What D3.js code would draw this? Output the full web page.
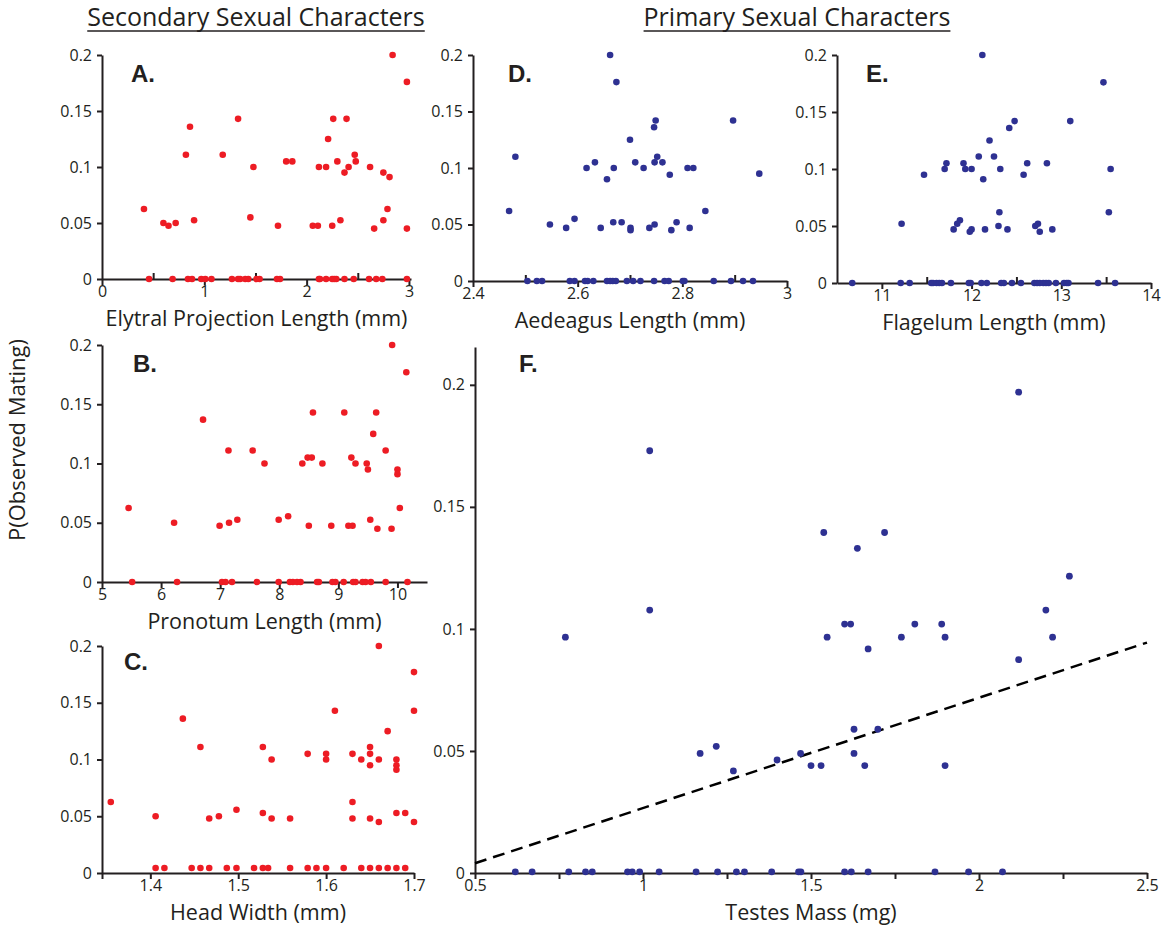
<!DOCTYPE html>
<html>
<head>
<meta charset="utf-8">
<script src="https://cdn.jsdelivr.net/npm/d3@7"></script>
<style>
body{margin:0;background:#fff}
text{font-family:"Open Sans",sans-serif;fill:#231f20}
</style>
</head>
<body>
<svg id="chart" width="1171" height="928"></svg>
<script>
// ---- data ----
// A. elytral projection length (mm) vs P(observed mating)
var elytralPts = [[0.41,0.0625],[0.60,0.05],[0.65,0.0475],[0.72,0.05],[0.82,0.111],[0.86,0.136],[0.90,0.0525],
  [1.18,0.111],[1.33,0.143],[1.45,0.055],[1.48,0.1],[1.72,0.0475],[1.80,0.105],[1.86,0.105],[2.06,0.0475],
  [2.11,0.0475],[2.12,0.1],[2.19,0.1],[2.21,0.125],[2.25,0.0475],[2.26,0.143],[2.30,0.105],[2.33,0.0525],
  [2.37,0.095],[2.39,0.143],[2.41,0.1],[2.47,0.111],[2.48,0.105],[2.62,0.1],[2.66,0.045],[2.75,0.095],
  [2.75,0.0525],[2.79,0.0625],[2.81,0.091],[2.84,0.2],[2.98,0.176],[2.98,0.045]];
var elytralZeros = [0.46,0.69,0.84,0.88,0.97,1.01,1.07,1.27,1.33,1.35,1.40,1.43,1.51,1.54,1.71,1.74,
  2.12,2.13,2.19,2.25,2.27,2.29,2.37,2.46,2.61,2.68,2.74,2.98];

// B. pronotum length (mm)
var pronotumPts = [[5.45,0.0625],[6.22,0.05],[6.71,0.137],[6.99,0.0475],[7.14,0.111],[7.15,0.05],[7.29,0.0525],
  [7.55,0.111],[7.75,0.1],[7.99,0.0525],[8.15,0.0555],[8.39,0.1],[8.48,0.105],[8.50,0.0475],[8.55,0.105],
  [8.57,0.143],[8.73,0.1],[8.88,0.0475],[9.10,0.143],[9.17,0.0475],[9.22,0.105],[9.24,0.0475],[9.29,0.1],
  [9.48,0.1],[9.50,0.095],[9.54,0.0525],[9.59,0.125],[9.64,0.143],[9.66,0.045],[9.80,0.111],[9.90,0.045],
  [9.91,0.2],[10.0,0.095],[10.0,0.091],[10.04,0.0625],[10.15,0.177]];
var pronotumZeros = [5.51,6.27,7.03,7.09,7.20,7.62,7.99,8.18,8.23,8.30,8.36,8.64,8.67,8.90,8.95,9.09,
  9.25,9.29,9.41,9.46,9.55,9.80,10.17];

// C. head width (mm)
var headPts = [[1.355,0.0625],[1.406,0.05],[1.437,0.136],[1.457,0.111],[1.467,0.048],[1.478,0.05],[1.498,0.0557],
  [1.528,0.0528],[1.528,0.111],[1.538,0.1],[1.538,0.048],[1.559,0.048],[1.579,0.105],[1.600,0.105],[1.600,0.1],
  [1.610,0.143],[1.630,0.105],[1.630,0.0625],[1.630,0.048],[1.640,0.1],[1.650,0.111],[1.650,0.105],[1.650,0.095],
  [1.650,0.048],[1.660,0.2],[1.660,0.1],[1.660,0.045],[1.670,0.125],[1.680,0.1],[1.680,0.095],[1.680,0.091],
  [1.680,0.0528],[1.690,0.0528],[1.700,0.177],[1.700,0.143],[1.700,0.045]];
var headZeros = [1.406,1.416,1.447,1.457,1.467,1.487,1.498,1.518,1.528,1.534,1.559,1.579,1.589,1.600,
  1.620,1.640,1.650,1.660,1.670,1.680,1.690];
var headZeroLevel = 0.0044;

// D. aedeagus length (mm)
var aedeagusPts = [[2.469,0.062],[2.481,0.110],[2.547,0.050],[2.578,0.047],[2.594,0.055],[2.617,0.100],
  [2.633,0.105],[2.644,0.047],[2.656,0.090],[2.662,0.2],[2.668,0.052],[2.669,0.100],[2.674,0.176],[2.684,0.052],
  [2.700,0.125],[2.701,0.047],[2.701,0.045],[2.710,0.105],[2.726,0.100],[2.737,0.047],[2.746,0.136],[2.749,0.142],
  [2.747,0.105],[2.747,0.050],[2.752,0.110],[2.762,0.105],[2.776,0.094],[2.779,0.045],[2.789,0.052],[2.810,0.100],
  [2.814,0.047],[2.821,0.100],[2.844,0.062],[2.897,0.142],[2.947,0.095]];
var aedeagusZeros = [2.504,2.522,2.532,2.585,2.594,2.614,2.619,2.630,2.656,2.662,2.667,2.673,2.694,2.706,
  2.720,2.746,2.766,2.774,2.801,2.804,2.860,2.893,2.916,2.935];

// E. flagelum length (mm)
var flagelumPts = [[11.22,0.052],[11.47,0.095],[11.70,0.1],[11.72,0.105],[11.80,0.047],[11.84,0.052],[11.87,0.055],
  [11.91,0.105],[11.93,0.1],[11.98,0.045],[12.00,0.1],[12.00,0.047],[12.08,0.111],[12.12,0.2],[12.13,0.091],
  [12.15,0.047],[12.20,0.125],[12.25,0.111],[12.30,0.050],[12.31,0.062],[12.32,0.1],[12.40,0.047],[12.42,0.136],
  [12.48,0.142],[12.58,0.095],[12.62,0.105],[12.71,0.050],[12.74,0.052],[12.76,0.045],[12.84,0.105],[12.90,0.047],
  [13.10,0.142],[13.47,0.176],[13.53,0.062],[13.55,0.1]];
var flagelumZeros = [10.67,11.21,11.31,11.55,11.57,11.61,11.64,11.67,11.77,11.97,11.99,12.11,12.17,12.33,
  12.36,12.45,12.55,12.70,12.73,12.76,12.80,12.83,12.86,12.94,13.03,13.06,13.08,13.41,13.60];

// F. testes mass (mg)
var testesPts = [[1.02,0.173],[2.118,0.197],[1.538,0.1395],[1.719,0.1395],[1.638,0.133],[2.269,0.1216],
  [1.02,0.1077],[2.199,0.1077],[1.60,0.102],[1.618,0.102],[1.809,0.102],[1.889,0.102],[0.769,0.0966],
  [1.548,0.0966],[1.769,0.0966],[1.899,0.0966],[2.219,0.0966],[1.670,0.0918],[2.118,0.0874],[1.628,0.0589],
  [1.699,0.0589],[1.218,0.0519],[1.170,0.049],[1.469,0.049],[1.628,0.049],[1.399,0.0463],[1.50,0.044],
  [1.530,0.044],[1.660,0.044],[1.899,0.044],[1.269,0.0418]];
var testesZeros = [0.620,0.670,0.779,0.829,0.849,0.954,0.968,0.990,1.048,1.158,1.222,1.278,1.302,1.383,
  1.463,1.470,1.600,1.620,1.670,1.869,1.969,2.070];
var testesFit = [[0.5,0.004],[2.5,0.0944]];

var pTicks = [0,0.05,0.1,0.15,0.2];

var RED = "#ed1c24", BLUE = "#2e3192", INK = "#231f20";

var svg = d3.select("#chart");
var fmt = d3.format("");

function panel(p) {
  var x = d3.scaleLinear().domain(p.xDomain).range(p.xRange);
  var y = d3.scaleLinear().domain(p.yDomain).range(p.yRange);
  var g = svg.append("g");
  var fs = p.tickFont || 16;

  g.append("g").attr("transform", "translate(" + p.xRange[0] + ",0)")
    .call(d3.axisLeft(y).tickValues(pTicks).tickFormat(fmt).tickSize(5).tickSizeOuter(0).tickPadding(5));
  g.append("g").attr("transform", "translate(0," + p.yRange[0] + ")")
    .call(d3.axisBottom(x).tickValues(p.xTicks).tickFormat(fmt).tickSize(6).tickSizeOuter(0).tickPadding(1));
  if (p.xMinor) {
    g.append("g").attr("transform", "translate(0," + p.yRange[0] + ")")
      .call(d3.axisBottom(x).tickValues(p.xMinor).tickFormat("").tickSize(p.minorUp ? -6 : 6).tickSizeOuter(0))
      .select(".domain").remove();
  }
  g.selectAll("path.domain, .tick line").attr("stroke", INK).attr("stroke-width", 2);
  g.selectAll(".tick text").style("font-size", fs + "px").attr("fill", null);

  // x-axis title
  g.append("text").attr("x", (p.xRange[0] + p.xRange[1]) / 2).attr("y", p.yRange[0] + 46.5)
    .attr("text-anchor", "middle").style("font-size", "21.5px").text(p.title);
  // panel letter
  g.append("text").attr("x", p.letterX).attr("y", p.letterY)
    .style("font-family", "'Liberation Sans',Arial,sans-serif").style("font-weight", "bold")
    .style("font-size", "24px").text(p.letter);

  if (p.fit) {
    g.append("path").datum(p.fit)
      .attr("d", d3.line().x(function(d){ return x(d[0]); }).y(function(d){ return y(d[1]); }))
      .attr("fill", "none").attr("stroke", "#000").attr("stroke-width", 2.5).attr("stroke-dasharray", "12,7");
  }

  var pts = p.pts.concat(p.zeros.map(function(v){ return [v, p.zeroLevel || 0]; }));
  g.selectAll("circle.pt").data(pts).enter().append("circle")
    .attr("class", "pt")
    .attr("cx", function(d){ return x(d[0]); })
    .attr("cy", function(d){ return y(d[1]); })
    .attr("r", p.r || 3.3)
    .attr("fill", p.color);
}

panel({ xDomain:[0,3.02], xRange:[102,411], yDomain:[0,0.2], yRange:[279,55],
  xTicks:[0,1,2,3], xMinor:[0.5,1.5,2.5], minorUp:true,
  pts:elytralPts, zeros:elytralZeros, color:RED,
  title:"Elytral Projection Length (mm)", letter:"A.", letterX:131, letterY:82 });

panel({ xDomain:[5,10.5], xRange:[102,427], yDomain:[0,0.2], yRange:[582,345],
  xTicks:[5,6,7,8,9,10],
  pts:pronotumPts, zeros:pronotumZeros, color:RED,
  title:"Pronotum Length (mm)", letter:"B.", letterX:133, letterY:372 });

panel({ xDomain:[1.345,1.7], xRange:[102,414], yDomain:[0,0.2], yRange:[873,646],
  xTicks:[1.4,1.5,1.6,1.7], xMinor:[1.345],
  pts:headPts, zeros:headZeros, zeroLevel:headZeroLevel, color:RED,
  title:"Head Width (mm)", letter:"C.", letterX:124, letterY:670 });

panel({ xDomain:[2.4,3], xRange:[473,787], yDomain:[0,0.2], yRange:[281,55],
  xTicks:[2.4,2.6,2.8,3], xMinor:[2.5,2.7,2.9], minorUp:true,
  pts:aedeagusPts, zeros:aedeagusZeros, color:BLUE,
  title:"Aedeagus Length (mm)", letter:"D.", letterX:508, letterY:82 });

panel({ xDomain:[10.5,14], xRange:[837,1151], yDomain:[0,0.2], yRange:[283,55],
  xTicks:[11,12,13,14], xMinor:[11.5,12.5,13.5], minorUp:true,
  pts:flagelumPts, zeros:flagelumZeros, color:BLUE,
  title:"Flagelum Length (mm)", letter:"E.", letterX:866, letterY:82 });

panel({ xDomain:[0.5,2.5], xRange:[475,1147], yDomain:[0,0.2155], yRange:[873,347],
  xTicks:[0.5,1,1.5,2,2.5], xMinor:[0.75,1.25,1.75,2.25],
  pts:testesPts, zeros:testesZeros, zeroLevel:0.0005, color:BLUE, r:3.4, fit:testesFit,
  title:"Testes Mass (mg)", letter:"F.", letterX:519, letterY:372 });

// section headers (underlined)
[["Secondary Sexual Characters", 256], ["Primary Sexual Characters", 797]].forEach(function(h){
  var t = svg.append("text").attr("x", h[1]).attr("y", 26).attr("text-anchor", "middle")
    .style("font-size", "25px").text(h[0]);
  var w = t.node().getComputedTextLength();
  svg.append("line").attr("x1", h[1] - w / 2).attr("x2", h[1] + w / 2)
    .attr("y1", 31).attr("y2", 31).attr("stroke", INK).attr("stroke-width", 1.4);
});

// shared y title
svg.append("text").attr("transform", "translate(25,440) rotate(-90)")
  .attr("text-anchor", "middle").style("font-size", "22px").text("P(Observed Mating)");
</script>
</body>
</html>
